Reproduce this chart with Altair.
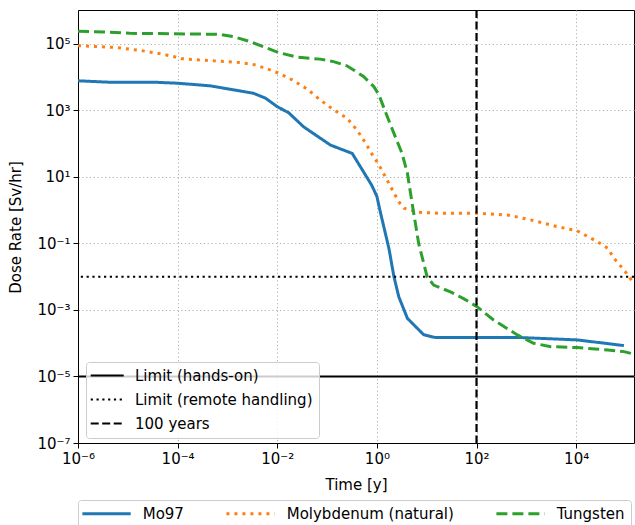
import altair as alt
import pandas as pd

# ---------------- data ----------------
series_names = ["Mo97", "Molybdenum (natural)", "Tungsten"]
series_colors = ["#1f77b4", "#ff7f0e", "#2ca02c"]

mo97_time = [1e-6, 4e-6, 3.2e-5, 1e-4, 4.5e-4, 3.3e-3, 5.8e-3, 1e-2, 0.017, 0.034,
             0.117, 0.32, 0.79, 1.0, 1.15, 1.74, 2.2, 2.75, 4.1, 8.7, 15, 100, 800,
             10500, 91000]
mo97_dose = [7800, 7100, 7100, 6600, 5500, 3300, 2350, 1300, 850, 320,
             91, 51, 5.6, 2.6, 1.0, 0.072, 0.01, 0.0025, 0.00056, 0.00018, 0.000148,
             0.000148, 0.000148, 0.000126, 0.000085]

moly_time = [1e-6, 1.3e-6, 6e-6, 1.9e-5, 4.1e-5, 8.3e-5, 1.2e-4, 5.6e-4, 1.8e-3, 3.6e-3,
             7.2e-3, 0.0107, 0.02, 0.04, 0.072, 0.135, 0.25, 0.4, 0.63, 0.74,
             1.1, 1.6, 2.75, 3.5, 6.9, 19, 100, 420, 1400, 4200,
             10500, 27000, 43000, 58000, 91000, 145000]
moly_dose = [89000, 87000, 78000, 63000, 52000, 42000, 36000, 31000, 27500, 23500,
             16600, 13200, 8300, 4400, 2100, 1050, 590, 257, 91, 58,
             23, 8.1, 1.8, 1.15, 0.87, 0.81, 0.81, 0.72, 0.49, 0.32,
             0.24, 0.112, 0.072, 0.035, 0.016, 0.0063]

tung_time = [1e-6, 3.2e-6, 1.1e-5, 7e-4, 1.3e-3, 2.9e-3, 5.2e-3, 0.0107, 0.025, 0.072,
             0.135, 0.25, 0.34, 0.54, 0.87, 1.1, 1.48, 2.2, 3.2, 4.1,
             5.1, 6.9, 10.2, 13.8, 30, 55, 102, 220, 660, 1400,
             3100, 10500, 43000, 91000, 160000]
tung_dose = [240000, 230000, 209000, 195000, 166000, 117000, 83000, 55000, 40000, 35000,
             29500, 22000, 16600, 10500, 5200, 2950, 910, 204, 51, 12.9,
             1.6, 0.10, 0.01, 0.0056, 0.0035, 0.0022, 0.00126, 0.0005, 0.000178, 0.0001,
             0.000079, 0.000074, 0.000063, 0.000056, 0.000045]

hlimit_names = ["Limit (hands-on)", "Limit (remote handling)"]
hlimit_values = [1e-5, 1e-2]
vline_names = ["100 years"]
vline_values = [100]
ref_names = ["Limit (hands-on)", "Limit (remote handling)", "100 years"]

x_ticks = [1e-6, 1e-4, 1e-2, 1, 1e2, 1e4]
x_exps = [-6, -4, -2, 0, 2, 4]
x_labels = ["10⁻⁶", "10⁻⁴", "10⁻²", "10⁰", "10²", "10⁴"]
y_ticks = [1e-7, 1e-5, 1e-3, 1e-1, 1e1, 1e3, 1e5]
y_exps = [-7, -5, -3, -1, 1, 3, 5]
y_labels = ["10⁻⁷", "10⁻⁵", "10⁻³", "10⁻¹", "10¹", "10³", "10⁵"]

# ---------------- tables ----------------
rows = []
for name, ts, ds in [(series_names[0], mo97_time, mo97_dose),
                     (series_names[1], moly_time, moly_dose),
                     (series_names[2], tung_time, tung_dose)]:
    for i, (t, d) in enumerate(zip(ts, ds)):
        rows.append({"series": name, "time": t, "dose": d, "order": i})
df = pd.DataFrame(rows)
hdf = pd.DataFrame({"ref": hlimit_names, "y": hlimit_values})
vdf = pd.DataFrame({"ref": vline_names, "x": vline_values})


def label_expr(exps, labels):
    parts = [f"round(log(datum.value)/LN10) == {e} ? '{l}'" for e, l in zip(exps, labels)]
    return " : ".join(parts) + " : ''"


FONT = "DejaVu Sans"
axis_common = dict(
    grid=True, gridDash=[1.2, 2.6], gridColor="#b0b0b0", gridWidth=1,
    domainColor="black", domainWidth=1, tickColor="black", tickSize=5, tickWidth=1,
    labelFontSize=15, labelFont=FONT, labelColor="black",
    titleFontSize=15, titleFont=FONT, titleFontWeight="normal", titleColor="black",
)

x_scale = alt.Scale(type="log", domain=[1e-6, 1.45e5], nice=False)
y_scale = alt.Scale(type="log", domain=[1e-7, 1.05e6], nice=False)

x_axis = alt.Axis(values=x_ticks, labelExpr=label_expr(x_exps, x_labels),
                  labelPadding=3, title="Time [y]", titleY=41, titleBaseline="middle",
                  labelFlush=False, labelOverlap=False, **axis_common)
y_axis = alt.Axis(values=y_ticks, labelExpr=label_expr(y_exps, y_labels),
                  labelPadding=3, title="Dose Rate [Sv/hr]", titleX=-63, titleY=217,
                  titleBaseline="middle", labelFlush=False, labelOverlap=False, **axis_common)

series_legend = alt.Legend(
    orient="none", legendX=0, legendY=490, direction="horizontal", title=None,
    symbolType="M-2.275,0H9.8", symbolSize=64, symbolStrokeWidth=3,
    labelFontSize=15, labelFont=FONT, labelColor="black", labelOffset=43.7, labelLimit=400,
    columnPadding=36, padding=6, fillColor="rgba(255,255,255,0.8)",
    strokeColor="#cccccc", cornerRadius=3,
)
ref_legend = alt.Legend(
    orient="none", legendX=8, legendY=352, direction="vertical", title=None,
    symbolType="M-2.2,0H6.05", symbolSize=64, symbolStrokeWidth=2.2,
    symbolStrokeColor="black",
    labelFontSize=15, labelFont=FONT, labelColor="black", labelOffset=28, labelLimit=400,
    rowPadding=8, padding=6, fillColor="rgba(255,255,255,0.8)",
    strokeColor="#cccccc", cornerRadius=3,
)

lines = alt.Chart(df).mark_line(strokeWidth=3, clip=True, strokeCap="butt").encode(
    x=alt.X("time:Q", scale=x_scale, axis=x_axis),
    y=alt.Y("dose:Q", scale=y_scale, axis=y_axis),
    color=alt.Color("series:N", scale=alt.Scale(domain=series_names, range=series_colors),
                    legend=series_legend),
    strokeDash=alt.StrokeDash("series:N",
                              scale=alt.Scale(domain=series_names,
                                              range=[[1, 0], [3, 5], [11, 5]]),
                              legend=series_legend),
    order="order:Q",
)

ref_dash_scale = alt.Scale(domain=ref_names, range=[[1, 0], [2.2, 3.6], [8, 3.5]])

hrules = alt.Chart(hdf).mark_rule(color="black", strokeWidth=2.2).encode(
    y=alt.Y("y:Q", scale=y_scale),
    strokeDash=alt.StrokeDash("ref:N", scale=ref_dash_scale, legend=ref_legend),
)
vrule = alt.Chart(vdf).mark_rule(color="black", strokeWidth=2.2).encode(
    x=alt.X("x:Q", scale=x_scale),
    strokeDash=alt.StrokeDash("ref:N", scale=ref_dash_scale, legend=ref_legend),
)

refs = alt.layer(hrules, vrule)

chart = alt.layer(lines, refs).resolve_scale(
    strokeDash="independent", color="independent"
).properties(
    width=556, height=433,
    autosize=alt.AutoSizeParams(type="none"),
    padding={"left": 78, "top": 10, "right": 1, "bottom": 82},
).configure(font=FONT).configure_view(stroke="black", strokeWidth=1)

chart.save("out.html", embed_options={"renderer": "svg", "actions": False})
